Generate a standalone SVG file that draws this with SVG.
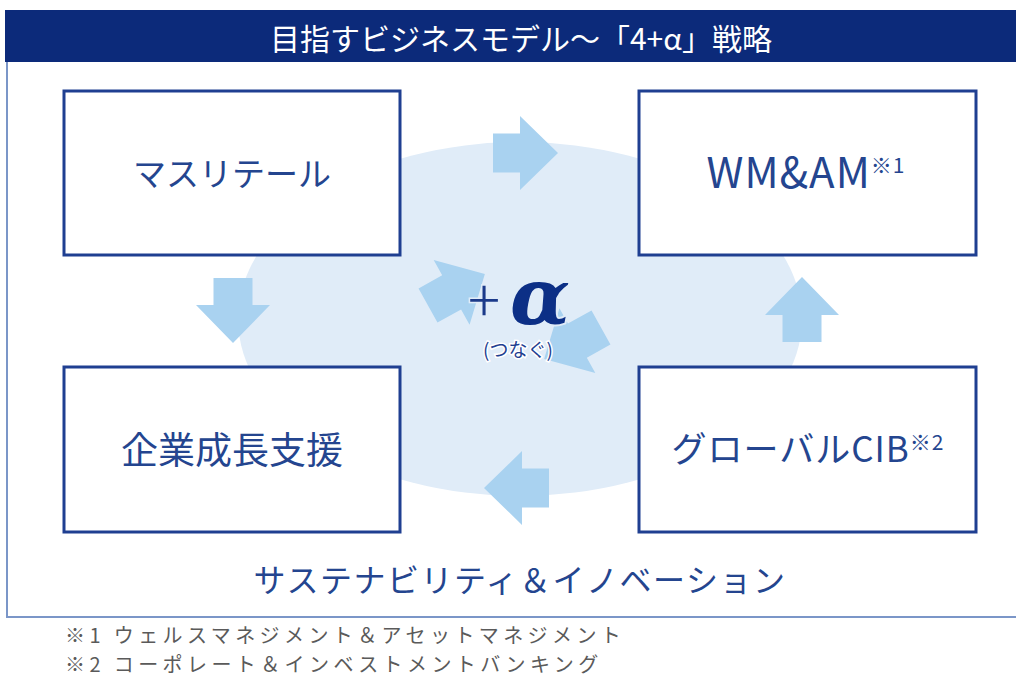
<svg xmlns="http://www.w3.org/2000/svg" width="1016" height="679" viewBox="0 0 1016 679">
<defs>
<style>
.jp{font-family:"Noto Sans CJK JP","Noto Sans",sans-serif;}
.box{fill:#ffffff;stroke:#1f3f91;stroke-width:3;}
.lbl{fill:#24458f;text-anchor:middle;}
.arr{fill:#a9d2f0;}
.note{fill:#5a5a5a;font-size:20px;letter-spacing:4.4px;}
</style>
<path id="arrowR" d="M-32,-19.5 L-5,-19.5 L-5,-37 L33,0 L-5,37 L-5,19.5 L-32,19.5 Z"/>
</defs>
<rect x="0" y="0" width="1016" height="679" fill="#ffffff"/>
<g id="frame">
<path d="M7,62 L7,617 L1020,617" fill="none" stroke="#7b96c8" stroke-width="2"/>
<rect x="5" y="10" width="1015" height="52" fill="#0c2a7a"/>
<text class="jp" x="521" y="50" fill="#ffffff" font-size="30" text-anchor="middle">目指すビジネスモデル～「4+α」戦略</text>
</g>
<ellipse id="hub" cx="520" cy="319" rx="282" ry="177" fill="#e0ecf8"/>
<g id="connectors">
<use href="#arrowR" class="arr" transform="translate(525,153)"/>
<use href="#arrowR" class="arr" transform="translate(517,488) rotate(180)"/>
<use href="#arrowR" class="arr" transform="translate(233,310) rotate(90)"/>
<use href="#arrowR" class="arr" transform="translate(802,310) rotate(-90)"/>
<use href="#arrowR" class="arr" transform="translate(456,290) rotate(-29)"/>
<use href="#arrowR" class="arr" transform="translate(573,343) rotate(151)"/>
</g>
<g id="alpha">
<text class="jp" x="484" y="322" fill="#1b3a8a" font-size="60" font-weight="300" text-anchor="middle" stroke="#e0ecf8" stroke-width="3" paint-order="stroke">+</text>
<text x="540" y="324" fill="#0c2f86" font-family="DejaVu Serif, serif" font-weight="bold" font-style="italic" font-size="78" text-anchor="middle" stroke="#e0ecf8" stroke-width="4" paint-order="stroke">α</text>
<text class="jp" x="518" y="357" fill="#1f3f91" font-size="19" text-anchor="middle" stroke="#ffffff" stroke-width="3" paint-order="stroke">(つなぐ)</text>
</g>
<g id="node-mass-retail">
<rect class="box" x="64" y="91" width="336" height="164"/>
<text class="jp lbl" x="232" y="186" font-size="33">マスリテール</text>
</g>
<g id="node-wm-am">
<rect class="box" x="639" y="91" width="337" height="164"/>
<text class="jp lbl" x="806" y="188" font-size="42" letter-spacing="1">WM&amp;AM<tspan font-size="21" dy="-15">※1</tspan></text>
</g>
<g id="node-corporate">
<rect class="box" x="64" y="367" width="336" height="165"/>
<text class="jp lbl" x="232" y="464" font-size="37">企業成長支援</text>
</g>
<g id="node-global-cib">
<rect class="box" x="639" y="367" width="337" height="165"/>
<text class="jp lbl" x="808" y="462" font-size="35" letter-spacing="1">グローバルCIB<tspan font-size="21" dy="-12">※2</tspan></text>
</g>
<g id="sustainability">
<text class="jp lbl" x="520" y="592" font-size="32" letter-spacing="1.5">サステナビリティ＆イノベーション</text>
</g>
<g id="notes">
<text class="jp note" x="65" y="643">※1 ウェルスマネジメント＆アセットマネジメント</text>
<text class="jp note" x="65" y="672">※2 コーポレート＆インベストメントバンキング</text>
</g>
</svg>
